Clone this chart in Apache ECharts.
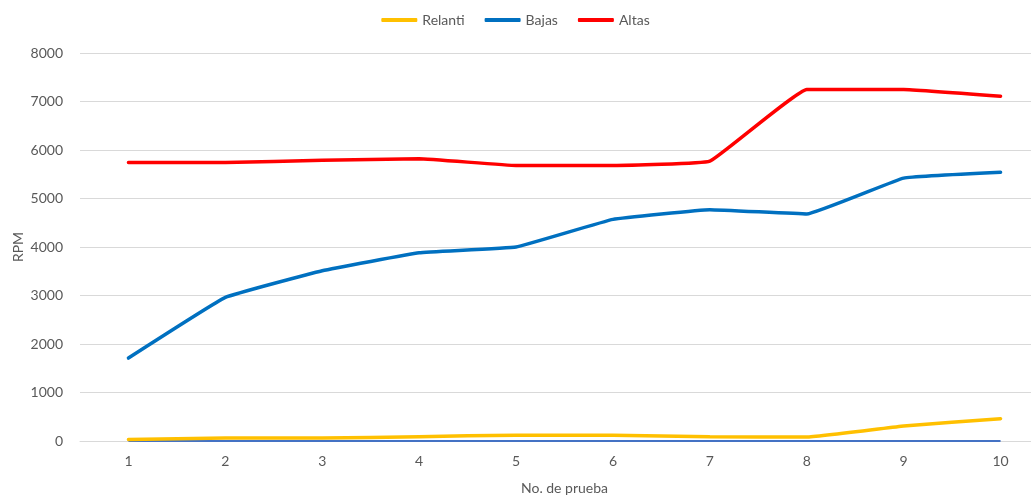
<!DOCTYPE html>
<html>
<head>
<meta charset="utf-8">
<script src="https://cdn.jsdelivr.net/npm/echarts@6/dist/echarts.min.js"></script>
<style>
html,body{margin:0;padding:0;background:#fff;}
#chart{width:1031px;height:498px;}
</style>
</head>
<body>
<div id="chart"></div>
<script>
var pruebas = ['1','2','3','4','5','6','7','8','9','10'];
var relanti = [30, 60, 60, 90, 120, 120, 90, 80, 310, 460];
var bajas = [1710, 2960, 3510, 3880, 4000, 4570, 4770, 4680, 5420, 5540];
var altas = [5740, 5740, 5790, 5820, 5680, 5680, 5770, 7250, 7250, 7110];
var base = [0, 0, 0, 0, 0, 0, 0, 0, 0, 0];

var myChart = echarts.init(document.getElementById('chart'));
var txt = '#595959';
var option = {
  animation: false,
  textStyle: {fontFamily: 'Lato', color: txt},
  legend: {
    data: ['Relanti', 'Bajas', 'Altas'],
    top: 8,
    left: 'center',
    itemWidth: 36,
    itemHeight: 4,
    itemGap: 20,
    icon: 'roundRect',
    textStyle: {color: txt, fontSize: 14}
  },
  grid: {left: 80, right: -18, top: 53, bottom: 57, outerBoundsMode: 'none', containLabel: false},
  xAxis: {
    type: 'category',
    data: pruebas,
    boundaryGap: true,
    name: 'No. de prueba',
    nameLocation: 'middle',
    nameGap: 40,
    nameTextStyle: {color: txt, fontSize: 14},
    axisLine: {lineStyle: {color: '#d9d9d9', width: 1}},
    axisTick: {show: false},
    axisLabel: {color: txt, fontSize: 14, margin: 13}
  },
  yAxis: {
    type: 'value',
    min: 0,
    max: 8000,
    interval: 1000,
    name: 'RPM',
    nameLocation: 'middle',
    nameGap: 55,
    nameMoveOverlap: false,
    nameTextStyle: {color: txt, fontSize: 14},
    axisLine: {show: false},
    axisTick: {show: false},
    axisLabel: {color: txt, fontSize: 14, margin: 17, formatter: function (v) { return String(v); }},
    splitLine: {lineStyle: {color: '#d9d9d9', width: 1}}
  },
  series: [
    {
      name: 'base',
      type: 'line',
      data: base,
      showSymbol: false,
      lineStyle: {color: '#4472C4', width: 2},
      itemStyle: {color: '#4472C4'}
    },
    {
      name: 'Relanti',
      type: 'line',
      data: relanti,
      smooth: 0.08,
      showSymbol: false,
      lineStyle: {color: '#FFC000', width: 3.5, cap: 'round'},
      itemStyle: {color: '#FFC000'}
    },
    {
      name: 'Bajas',
      type: 'line',
      data: bajas,
      smooth: 0.08,
      showSymbol: false,
      lineStyle: {color: '#0070C0', width: 3.5, cap: 'round'},
      itemStyle: {color: '#0070C0'}
    },
    {
      name: 'Altas',
      type: 'line',
      data: altas,
      smooth: 0.08,
      showSymbol: false,
      lineStyle: {color: '#FF0000', width: 3.5, cap: 'round'},
      itemStyle: {color: '#FF0000'}
    }
  ]
};
myChart.setOption(option);
</script>
</body>
</html>
